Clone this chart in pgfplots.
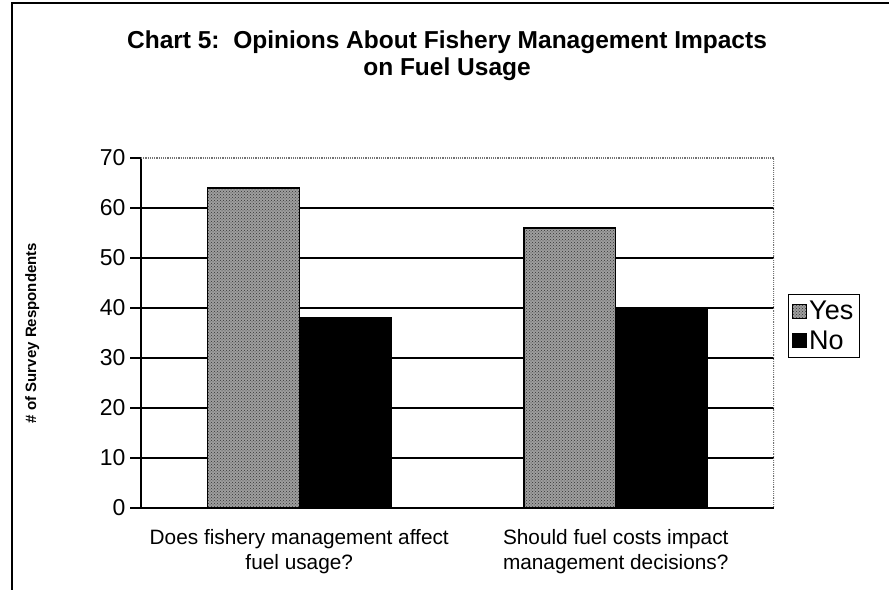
\documentclass[border=0pt]{standalone}
\usepackage{pgfplots}
\pgfplotsset{compat=1.18}
\usetikzlibrary{patterns}
\usepackage{fontspec}
\setmainfont{Liberation Sans}
\begin{document}
\begin{tikzpicture}
\path[use as bounding box] (0pt,0pt) rectangle (889pt,604pt);
\draw[line width=1.5pt] (12pt,14pt) -- (12pt,601pt) -- (889pt,601pt);
\node[font=\fontsize{24.5}{28}\selectfont\bfseries, anchor=base, inner sep=0pt] at (447pt,555pt) {Chart 5:\ \ Opinions About Fishery Management Impacts};
\node[font=\fontsize{24.5}{28}\selectfont\bfseries, anchor=base, inner sep=0pt] at (447pt,528pt) {on Fuel Usage};
\begin{axis}[
  at={(141pt,96pt)}, anchor=south west, scale only axis,
  width=633pt, height=350pt,
  xmin=-0.5, xmax=1.5, ymin=0, ymax=70,
  ytick={0,10,...,60}, extra y ticks={70}, extra y tick style={grid=none},
  ymajorgrids, grid style={black, line width=1.1pt},
  axis x line*=bottom, axis y line*=left,
  axis line style={black, line width=1.4pt},
  y axis line style={line width=1.6pt},
  tick align=outside, major tick length=11pt,
  tick style={black, line width=1.2pt},
  xtick={0,1},
  xticklabels={{Does fishery management affect\\fuel usage?},{Should fuel costs impact\\management decisions?}},
  x tick style={draw=none},
  extra x ticks={0.5}, extra x tick labels={},
  extra x tick style={tick style={draw=black, line width=1.2pt}, major tick length=6pt, grid=none},
  xticklabel style={align=center, font=\fontsize{20.8}{25}\selectfont, yshift=-7pt},
  yticklabel style={font=\fontsize{23}{27}\selectfont, xshift=-1pt},
  /pgf/number format/assume math mode=true,
  ylabel={\# of Survey Respondents},
  every axis y label/.style={at={(axis description cs:-0.172,0.5)}, rotate=90, anchor=center,
     font=\fontsize{15}{17}\selectfont\bfseries},
  ybar=0pt, bar width=0.29,
  legend style={at={(axis description cs:1.022,0.52)}, anchor=west, draw=black, line width=1pt,
     font=\fontsize{27}{30}\selectfont, row sep=5pt, inner xsep=4pt, inner ysep=5pt},
  legend cell align=left,
  legend image code/.code={\draw[#1, line width=0.8pt] (0pt,-7pt) rectangle (14pt,7pt);},
]
\addplot[draw=black, line width=1.2pt, fill=black!38, postaction={pattern=crosshatch dots, pattern color=black!80}]
  coordinates {(0,64) (1,56)};
\addlegendentry{Yes}
\addplot[draw=black, line width=1.2pt, fill=black]
  coordinates {(0,38) (1,40)};
\addlegendentry{No}
\draw[black!55, densely dotted, line width=1.2pt] (rel axis cs:0,1) -- (rel axis cs:1,1) -- (rel axis cs:1,0);
\end{axis}
\end{tikzpicture}
\end{document}
